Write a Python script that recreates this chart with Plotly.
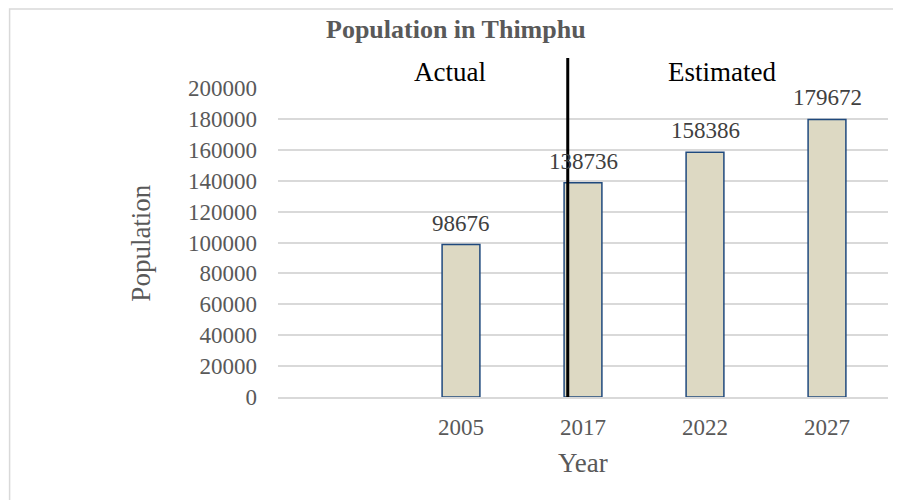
import plotly.graph_objects as go

# categories: first slot is empty in the source chart
years = [" ", "2005", "2017", "2022", "2027"]
population = [None, 98676, 138736, 158386, 179672]
y_ticks = list(range(0, 200001, 20000))

FONT = "Liberation Serif, Times New Roman, serif"
GREY = "#595959"

fig = go.Figure()

fig.add_trace(
    go.Bar(
        x=years,
        y=population,
        width=0.31,
        marker=dict(color="#DDD9C3", line=dict(color="#1F497D", width=1.5)),
        hoverinfo="x+y",
    )
)

# data labels above bars (category index used as x position)
for i, val in enumerate(population):
    if val is None:
        continue
    fig.add_annotation(
        x=i, y=val, text=str(val), showarrow=False,
        xanchor="center", yanchor="bottom", yshift=7,
        font=dict(family=FONT, size=23, color="#404040"),
    )


def paper_text(x, y, text, size, color=GREY, angle=0):
    fig.add_annotation(
        xref="paper", yref="paper", x=x, y=y, text=text, textangle=angle,
        xanchor="center", yanchor="middle", showarrow=False,
        font=dict(family=FONT, size=size, color=color),
    )


# divider between actual and estimated
fig.add_shape(
    type="line", xref="paper", yref="paper",
    x0=0.475, x1=0.475, y0=0, y1=1.097,
    line=dict(color="black", width=3),
)
paper_text(0.282, 1.052, "Actual", 27, "black")
paper_text(0.728, 1.052, "Estimated", 27, "black")

# title and axis titles
paper_text(0.292, 1.188, "<b>Population in Thimphu</b>", 26)
paper_text(-0.226, 0.5, "Population", 27, angle=-90)
paper_text(0.5, -0.214, "Year", 27)

# chart border
fig.add_shape(
    type="rect", xref="paper", yref="paper",
    x0=-0.44, x1=1.05, y0=-0.4, y1=1.256,
    line=dict(color="#D9D9D9", width=1.5), fillcolor="rgba(0,0,0,0)",
    layer="below",
)

fig.update_layout(
    width=901,
    height=500,
    template="plotly_white",
    plot_bgcolor="white",
    paper_bgcolor="white",
    margin=dict(t=80, b=111, l=270, r=21, autoexpand=False),
    showlegend=False,
    font=dict(family=FONT, color=GREY),
)
fig.update_yaxes(
    range=[0, 200000],
    tickvals=y_ticks,
    ticktext=[str(v) for v in y_ticks],
    showgrid=True,
    gridcolor="#D9D9D9",
    gridwidth=1.5,
    zeroline=False,
    showline=False,
    automargin=False,
    tickfont=dict(family=FONT, size=23, color=GREY),
    ticklabelstandoff=20,
)
fig.update_xaxes(
    type="category",
    categoryorder="array",
    categoryarray=years,
    range=[-0.5, 4.5],
    showgrid=False,
    showline=True,
    linecolor="#D9D9D9",
    linewidth=1.5,
    automargin=False,
    tickfont=dict(family=FONT, size=23, color=GREY),
    ticklabelstandoff=9,
)

fig.write_html("out.html")
